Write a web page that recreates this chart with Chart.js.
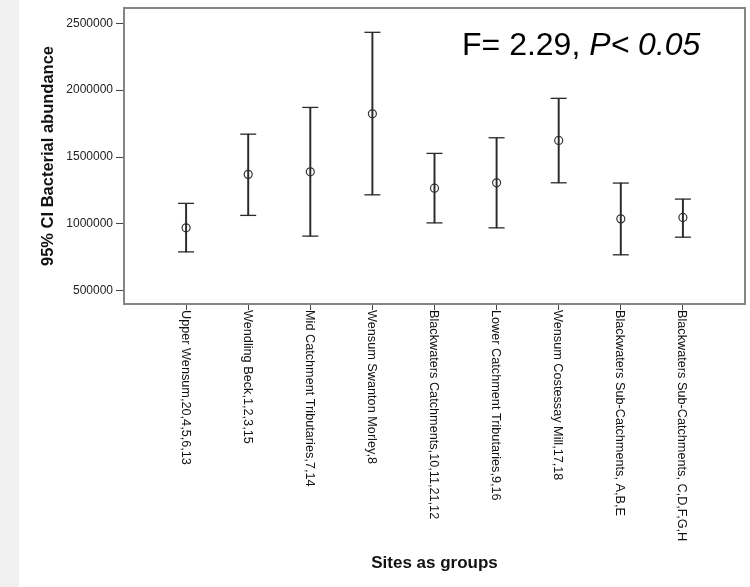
<!DOCTYPE html>
<html>
<head>
<meta charset="utf-8">
<script src="https://cdn.jsdelivr.net/npm/chart.js@4/dist/chart.umd.min.js"></script>
<style>
  html, body { margin: 0; padding: 0; }
  body {
    width: 750px; height: 587px; overflow: hidden;
    background: linear-gradient(to right, #f0f0f0 19px, #ffffff 19px);
  }
  #wrap { position: absolute; left: 19px; top: 0; width: 731px; height: 587px; }
</style>
</head>
<body>
<div id="wrap"><canvas id="ciChart"></canvas></div>
<script>
// site groups and 95% CI of bacterial abundance
const categories = [
  'Upper Wensum,20,4,5,6,13',
  'Wendling Beck,1,2,3,15',
  'Mid Catchment Tributaries,7,14',
  'Wensum Swanton Morley,8',
  'Blackwaters Catchments,10,11,21,12',
  'Lower Catchment Tributaries,9,16',
  'Wensum Costessay Mill,17,18',
  'Blackwaters Sub-Catchments, A,B,E',
  'Blackwaters Sub-Catchments, C,D,F,G,H'
];
const means = [970000, 1370000, 1389000, 1823000, 1267000, 1307000, 1624000, 1037000, 1048000];
const lower = [790000, 1063000, 908000, 1217000, 1007000, 970000, 1307000, 768000, 900000];
const upper = [1153000, 1671000, 1871000, 2433000, 1527000, 1644000, 1939000, 1305000, 1185000];
const yTicks = [500000, 1000000, 1500000, 2000000, 2500000];

const FONT = '"Liberation Sans", Arial, sans-serif';

// frame, rotated site labels and the F/P note
const extras = {
  id: 'extras',
  afterDraw(chart) {
    const { ctx, chartArea: a, scales: { x } } = chart;
    ctx.save();
    ctx.strokeStyle = '#858585';
    ctx.lineWidth = 2;
    ctx.strokeRect(a.left, a.top, a.right - a.left, a.bottom - a.top);

    ctx.fillStyle = '#111';
    ctx.font = '12.7px ' + FONT;
    ctx.textAlign = 'left';
    ctx.textBaseline = 'middle';
    categories.forEach((label, i) => {
      const px = x.getPixelForValue(i + 1);
      ctx.save();
      ctx.translate(px - 1, a.bottom + 6);
      ctx.rotate(Math.PI / 2);
      ctx.fillText(label, 0, 0);
      ctx.restore();
    });

    ctx.textBaseline = 'alphabetic';
    ctx.fillStyle = '#000';
    ctx.font = '32px ' + FONT;
    const first = 'F= 2.29, ';
    const sx = a.left + 338, sy = a.top + 47;
    ctx.fillText(first, sx, sy);
    const w = ctx.measureText(first).width;
    ctx.font = 'italic 32px ' + FONT;
    ctx.fillText('P< 0.05', sx + w, sy);
    ctx.restore();
  }
};

new Chart(document.getElementById('ciChart'), {
  type: 'scatter',
  data: {
    datasets: [
      {
        type: 'bar',
        data: categories.map((c, i) => ({ x: i + 1, y: [lower[i], upper[i]] })),
        backgroundColor: '#2a2a2a',
        borderWidth: 0,
        barThickness: 1.3
      },
      {
        data: categories.flatMap((c, i) => [{ x: i + 1, y: lower[i] }, { x: i + 1, y: upper[i] }]),
        pointStyle: 'line',
        pointRadius: 8,
        borderColor: '#2a2a2a',
        borderWidth: 1.3
      },
      {
        data: categories.map((c, i) => ({ x: i + 1, y: means[i] })),
        pointStyle: 'circle',
        pointRadius: 4,
        backgroundColor: 'rgba(0,0,0,0)',
        borderColor: '#333',
        borderWidth: 1.2
      }
    ]
  },
  options: {
    responsive: true,
    maintainAspectRatio: false,
    animation: false,
    events: [],
    layout: { autoPadding: false, padding: { left: 16, top: 8, right: 5, bottom: 0 } },
    plugins: { legend: { display: false }, tooltip: { enabled: false } },
    scales: {
      x: {
        type: 'linear',
        min: 0,
        max: categories.length + 1,
        offset: false,
        afterBuildTicks: s => { s.ticks = categories.map((c, i) => ({ value: i + 1 })); },
        afterFit: s => { s.height = 283; },
        ticks: { display: false },
        grid: { drawOnChartArea: false, offset: false, tickLength: 6, color: '#444' },
        border: { display: false },
        title: {
          display: true,
          text: 'Sites as groups',
          color: '#111',
          font: { family: FONT, size: 17, weight: 'bold' },
          padding: { top: 4, bottom: 13 }
        }
      },
      y: {
        min: 400000,
        max: 2615000,
        afterBuildTicks: s => { s.ticks = yTicks.map(v => ({ value: v })); },
        afterFit: s => { s.width = 89; s.paddingTop = 0; s.paddingBottom = 0; },
        ticks: {
          color: '#222',
          padding: 3,
          font: { family: FONT, size: 12 },
          callback: v => String(v)
        },
        grid: { drawOnChartArea: false, tickLength: 8, color: '#444' },
        border: { display: false },
        title: {
          display: true,
          text: '95% CI Bacterial abundance',
          color: '#111',
          font: { family: FONT, size: 16.5, weight: 'bold' },
          padding: { top: 4, bottom: 4 }
        }
      }
    }
  },
  plugins: [extras]
});
</script>
</body>
</html>
